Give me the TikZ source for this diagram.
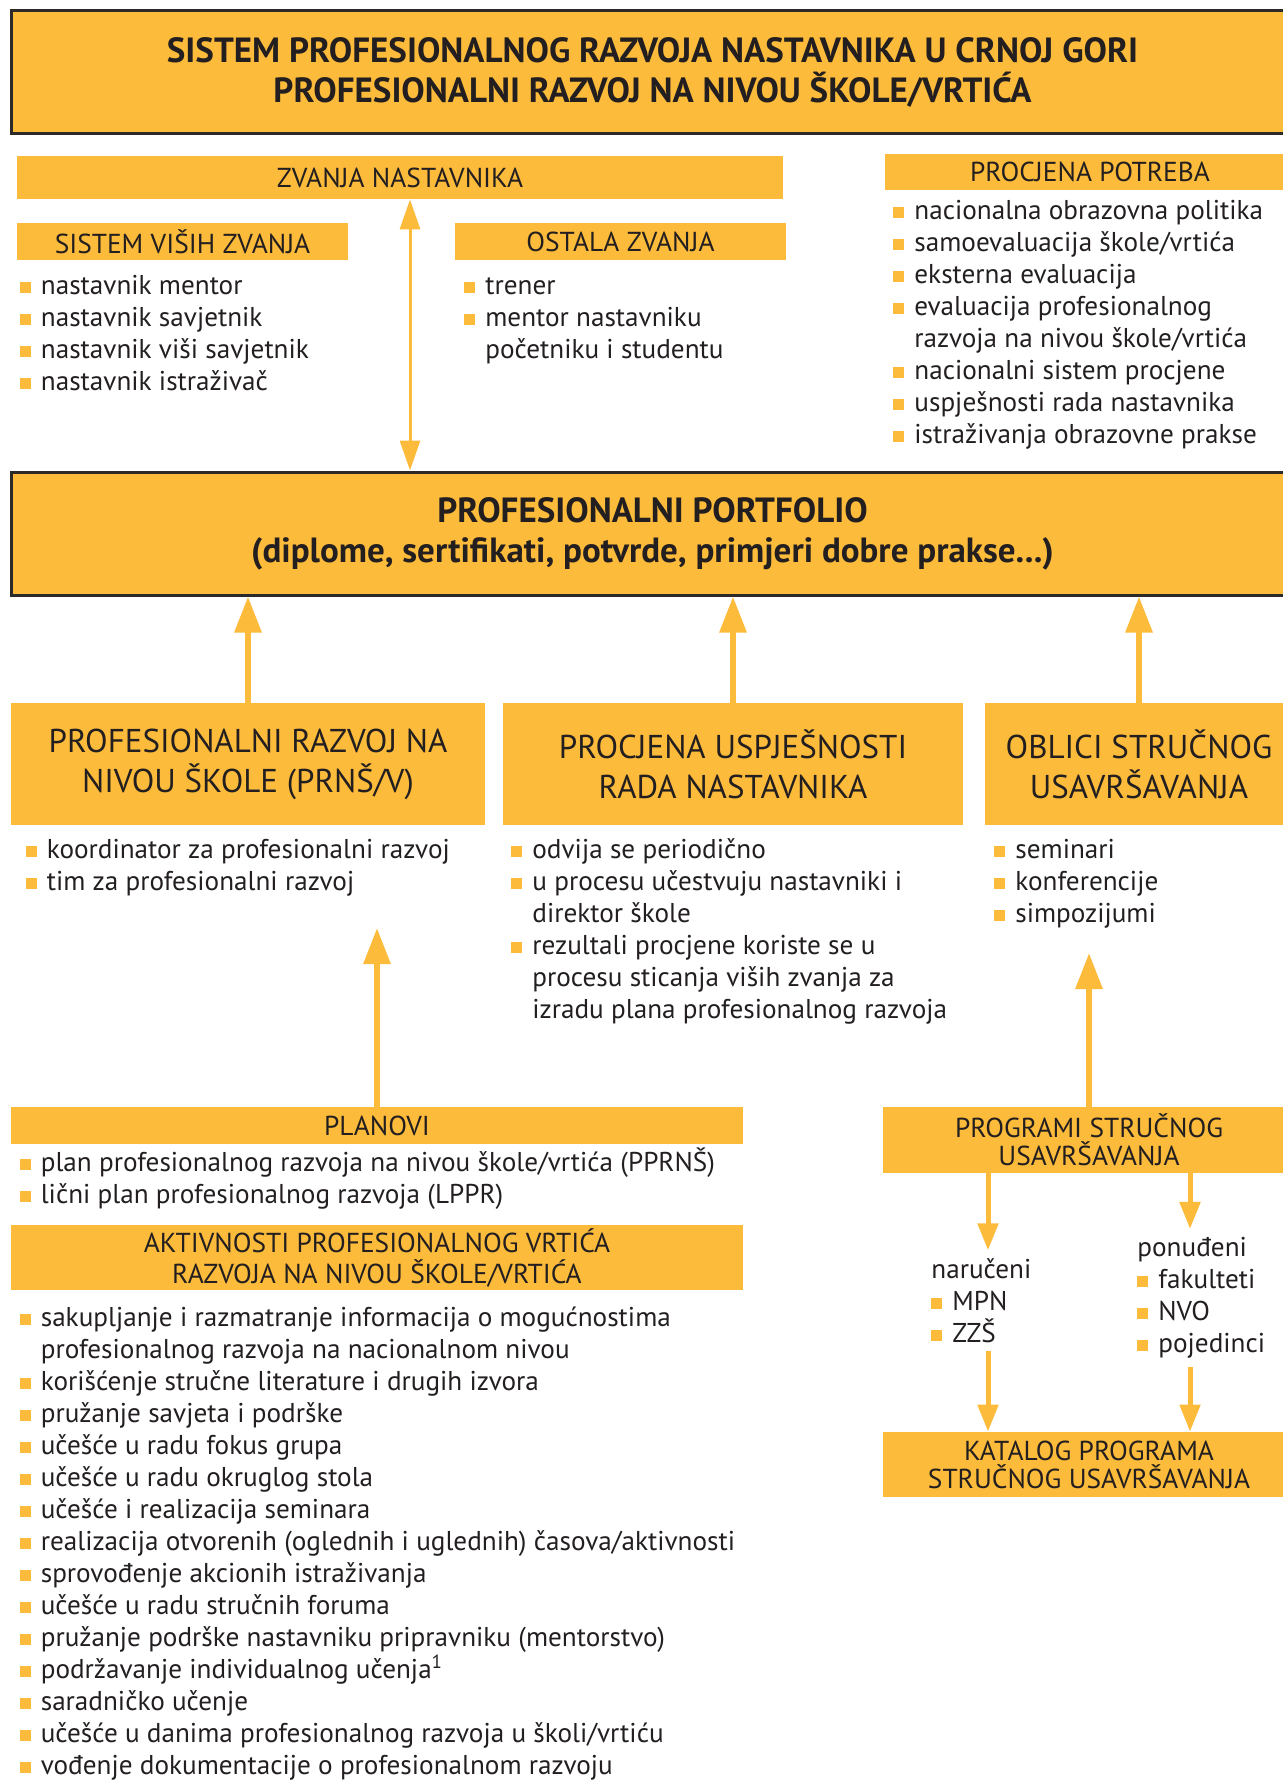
\documentclass[tikz,border=0pt]{standalone}
\usepackage{fontspec}
\setmainfont{PT Sans}
\usepackage{xcolor}
\usetikzlibrary{arrows.meta,positioning}

\definecolor{portorange}{HTML}{FCBB3A}
\definecolor{ink}{HTML}{231F20}
\definecolor{frame}{HTML}{2B2A29}
\newcommand{\sq}{\textcolor{portorange}{\rule[1pt]{5.5pt}{5.5pt}}\hspace{5pt}}
\newcommand{\nosq}{\hspace*{10.5pt}}

\begin{document}
\begin{tikzpicture}[x=1pt,y=-1pt,
    every node/.style={text=ink},
    framebox/.style={rectangle,fill=portorange,draw=frame,line width=1.5pt,align=center,inner sep=0pt,
      font=\fontsize{17.5}{20}\selectfont\bfseries},
    band/.style={rectangle,fill=portorange,align=center,inner sep=0pt,font=\fontsize{13.7}{14}\selectfont},
    bigband/.style={band,font=\fontsize{16.5}{20}\selectfont},
    items/.style={align=left,anchor=base west,inner sep=0pt,font=\fontsize{13.6}{16}\selectfont},
    up/.style={draw=portorange,line width=3pt,-{Triangle[width=13pt,length=18pt]}},
    down/.style={draw=portorange,line width=2.5pt,-{Triangle[width=10pt,length=13.5pt]}},
    both/.style={draw=portorange,line width=1.5pt,{Triangle[width=10pt,length=15pt]}-{Triangle[width=10pt,length=15pt]}}]

  \useasboundingbox (0,0) rectangle (641,890.5);

  % top
  \node[framebox,minimum width=641.5pt,minimum height=61.5pt] (title) at (326.25,36.25)
    {SISTEM PROFESIONALNOG RAZVOJA NASTAVNIKA U CRNOJ GORI\\PROFESIONALNI RAZVOJ NA NIVOU ŠKOLE/VRTIĆA};

  \node[band,minimum width=383pt,minimum height=21.5pt] (zvanja) at (200,88.75) {ZVANJA NASTAVNIKA};
  \node[band,minimum width=205pt,minimum height=18pt] (potrebe) at (545,86) {PROCJENA POTREBA};
  \node[band,minimum width=165.5pt,minimum height=18.5pt] (visa) at (91.25,120.75) {SISTEM VIŠIH ZVANJA};
  \node[band,minimum width=165.5pt,minimum height=18.5pt] (ostala) at (310.25,120.75) {OSTALA ZVANJA};

  % base of a list = baseline of its last line
  \node[items] (visalist) at (9.75,195.3)
    {\sq nastavnik mentor\\\sq nastavnik savjetnik\\\sq nastavnik viši savjetnik\\\sq nastavnik istraživač};
  \node[items] (ostalalist) at (232,179.3)
    {\sq trener\\\sq mentor nastavniku\\\nosq početniku i studentu};
  \node[items] (potrebelist) at (446.5,221.8)
    {\sq nacionalna obrazovna politika\\\sq samoevaluacija škole/vrtića\\\sq eksterna evaluacija\\
     \sq evaluacija profesionalnog\\\nosq razvoja na nivou škole/vrtića\\\sq nacionalni sistem procjene\\
     \sq uspješnosti rada nastavnika\\\sq istraživanja obrazovne prakse};

  % portfolio
  \node[framebox,minimum width=641.5pt,minimum height=61.5pt] (portfolio) at (326.25,266.75)
    {PROFESIONALNI PORTFOLIO\\(diplome, sertifikati, potvrde, primjeri dobre prakse...)};

  \node[bigband,minimum width=237pt,minimum height=61pt] (razvoj) at (124,382) {PROFESIONALNI RAZVOJ NA\\NIVOU ŠKOLE (PRNŠ/V)};
  \node[bigband,minimum width=230pt,minimum height=61pt] (procjena) at (366.5,382) {PROCJENA USPJEŠNOSTI\\RADA NASTAVNIKA};
  \node[bigband,minimum width=154pt,minimum height=61pt] (oblici) at (569.5,382) {OBLICI STRUČNOG\\USAVRŠAVANJA};

  \node[items] (razvojlist) at (12.7,445.3)
    {\sq koordinator za profesionalni razvoj\\\sq tim za profesionalni razvoj};
  \node[items] (procjenalist) at (255.5,509.3)
    {\sq odvija se periodično\\\sq u procesu učestvuju nastavniki i\\\nosq direktor škole\\
     \sq rezultali procjene koriste se u\\\nosq procesu sticanja viših zvanja za\\\nosq izradu plana profesionalnog razvoja};
  \node[items] (oblicilist) at (497,461.3)
    {\sq seminari\\\sq konferencije\\\sq simpozijumi};

  % bottom left
  \node[band,minimum width=366pt,minimum height=18.5pt] (planovi) at (188.5,562.75) {PLANOVI};
  \node[items] (planlist) at (9.7,601.8)
    {\sq plan profesionalnog razvoja na nivou škole/vrtića (PPRNŠ)\\\sq lični plan profesionalnog razvoja (LPPR)};
  \node[band,font=\fontsize{13.7}{15.5}\selectfont,minimum width=366pt,minimum height=32.5pt] (aktivnosti) at (188.5,628.75)
    {AKTIVNOSTI PROFESIONALNOG VRTIĆA\\RAZVOJA NA NIVOU ŠKOLE/VRTIĆA};
  \node[items] (aktlist) at (9.7,887.3)
    {\sq sakupljanje i razmatranje informacija o mogućnostima\\\nosq profesionalnog razvoja na nacionalnom nivou\\
     \sq korišćenje stručne literature i drugih izvora\\\sq pružanje savjeta i podrške\\
     \sq učešće u radu fokus grupa\\\sq učešće u radu okruglog stola\\\sq učešće i realizacija seminara\\
     \sq realizacija otvorenih (oglednih i uglednih) časova/aktivnosti\\\sq sprovođenje akcionih istraživanja\\
     \sq učešće u radu stručnih foruma\\\sq pružanje podrške nastavniku pripravniku (mentorstvo)\\
     \sq podržavanje individualnog učenja\textsuperscript{1}\\\sq saradničko učenje\\
     \sq učešće u danima profesionalnog razvoja u školi/vrtiću\\\sq vođenje dokumentacije o profesionalnom razvoju};

  % bottom right
  \node[band,minimum width=206pt,minimum height=33pt] (programi) at (544.5,570) {PROGRAMI STRUČNOG\\USAVRŠAVANJA};
  \node[items,inner ysep=4pt] (narucen) at (465.5,671.3) {naručeni\\\sq MPN\\\sq ZZŠ};
  \node[items,inner ysep=4pt] (ponudjen) at (568.5,676.3) {ponuđeni\\\sq fakulteti\\\sq NVO\\\sq pojedinci};
  \node[band,minimum width=206pt,minimum height=32.5pt] (katalog) at (544.5,732.25) {KATALOG PROGRAMA\\STRUČNOG USAVRŠAVANJA};

  % arrows
  \coordinate (dbl) at (205,0);
  \draw[both] (zvanja.south -| dbl) -- (portfolio.north -| dbl);
  \draw[up] (razvoj.north) -- (razvoj.north |- portfolio.south);
  \draw[up] (procjena.north) -- (procjena.north |- portfolio.south);
  \draw[up] (oblici.north) -- (oblici.north |- portfolio.south);
  \coordinate (tipA) at (188.5,464);
  \draw[up] (planovi.north) -- (tipA);
  \coordinate (tipB) at (544.5,476.5);
  \draw[up] (programi.north) -- (tipB);
  \coordinate (colL) at (494,0);
  \coordinate (colR) at (595,0);
  \draw[down] (programi.south -| colL) -- (narucen.north -| colL);
  \draw[down] (programi.south -| colR) -- (ponudjen.north -| colR);
  \draw[down] (narucen.south -| colL) -- (katalog.north -| colL);
  \draw[down] (ponudjen.south -| colR) -- (katalog.north -| colR);
\end{tikzpicture}
\end{document}
